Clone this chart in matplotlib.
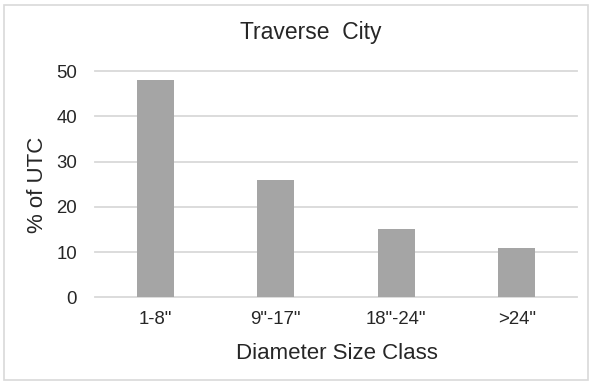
import matplotlib
matplotlib.use("Agg")
import matplotlib.pyplot as plt
from matplotlib.patches import Rectangle

categories = ['1-8"', '9"-17"', '18"-24"', '>24"']
values = [48, 26, 15, 11]
yticks = [0, 10, 20, 30, 40, 50]

plt.rcParams['font.family'] = ['Liberation Sans', 'DejaVu Sans']
text_color = '#262626'

fig = plt.figure(figsize=(5.92, 3.84), dpi=100)
W, H = 592, 384
ax = fig.add_axes([95 / W, (H - 297.3) / H, (577 - 95) / W, (297.3 - 71) / H])

x = range(len(categories))
ax.bar(x, values, width=0.31, color='#A5A5A5', zorder=3)
ax.set_xlim(-0.5, len(categories) - 0.5)
ax.set_ylim(0, 50)
ax.set_yticks(yticks)
ax.set_xticks(list(x))
ax.set_xticklabels(categories)
for s in ax.spines.values():
    s.set_visible(False)
ax.yaxis.grid(True, color='#D9D9D9', linewidth=1.3, zorder=0)
for gl in ax.get_ygridlines():
    gl.set_clip_on(False)
ax.tick_params(axis='both', length=0, labelsize=13.4, colors=text_color)
ax.tick_params(axis='y', pad=13)
ax.tick_params(axis='x', pad=10)

fig.text(336.5 / W, (H - 359) / H, 'Diameter Size Class', fontsize=16,
         color=text_color, ha='center', va='baseline')
fig.text(48 / W, (H - 184.5) / H, '% of UTC', fontsize=16, color=text_color,
         rotation=90, ha='right', va='center')

fig.text(310.5 / W, (H - 39) / H, 'Traverse  City', fontsize=16.5, color=text_color,
         ha='center', va='baseline')

fig.patches.append(Rectangle((4 / W, 4 / H), (W - 8) / W, (H - 9) / H,
                             transform=fig.transFigure, fill=False,
                             edgecolor='#D9D9D9', linewidth=1.2))

fig.savefig('out.png', dpi=100)
